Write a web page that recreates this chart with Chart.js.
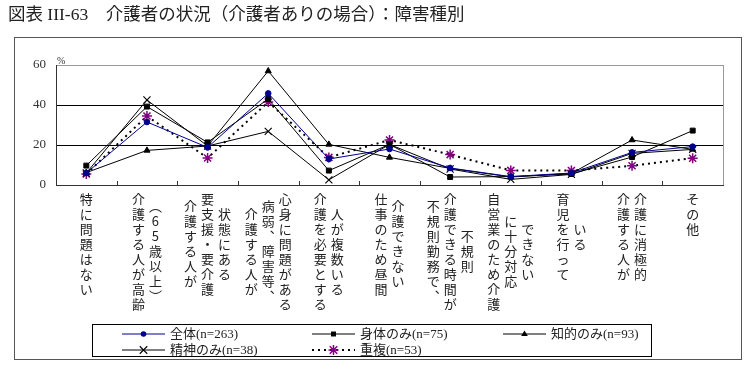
<!DOCTYPE html>
<html><head><meta charset="utf-8">
<script src="https://cdn.jsdelivr.net/npm/chart.js@4.4.1/dist/chart.umd.min.js"></script>
<style>html,body{margin:0;padding:0;background:#fff;}#wrap{width:750px;height:372px;position:relative;}</style>
</head><body><div id="wrap"><canvas id="c" width="750" height="372"></canvas></div>
<script>
const titleText = '図表 III-63　介護者の状況（介護者ありの場合）：障害種別';
// each category label split into its vertical columns (left to right)
const categories = [
  ['特に問題はない'],
  ['介護する人が高齢', '（65歳以上）'],
  ['介護する人が', '要支援・要介護', '状態にある'],
  ['介護する人が', '病弱、障害等、', '心身に問題がある'],
  ['介護を必要とする', '人が複数いる'],
  ['仕事のため昼間', '介護できない'],
  ['不規則勤務で、', '介護できる時間が', '不規則'],
  ['自営業のため介護', 'に十分対応', 'できない'],
  ['育児を行って', 'いる'],
  ['介護する人が', '介護に消極的'],
  ['その他']
];
const yTickValues = [0, 20, 40, 60];
const unitLabel = '%';
const seriesNames = ['全体(n=263)', '身体のみ(n=75)', '知的のみ(n=93)', '精神のみ(n=38)', '重複(n=53)'];
const zentai  = [6.0, 31.5, 18.8, 45.8, 13.0, 18.0, 8.5, 4.2, 6.0, 16.3, 19.2];
const shintai = [9.7, 39.2, 21.3, 43.0, 7.2, 20.3, 4.0, 4.2, 5.5, 14.0, 27.2];
const chiteki = [6.2, 17.3, 19.5, 57.0, 20.3, 13.8, 8.3, 4.0, 5.8, 22.5, 17.8];
const seishin = [6.0, 42.5, 19.5, 26.8, 2.6, 20.3, 8.0, 2.8, 5.3, 15.8, 17.8];
const choufuku = [5.5, 34.5, 13.5, 41.5, 13.8, 22.5, 15.2, 7.3, 7.2, 9.6, 13.4];

const CJK = "'Noto Sans CJK JP'";
const MIX = "'Liberation Serif', 'Noto Sans CJK JP'";

function drawMarker(ctx, style, x, y, r, fill, stroke, lw) {
  ctx.save();
  ctx.fillStyle = fill; ctx.strokeStyle = stroke; ctx.lineWidth = lw;
  ctx.beginPath();
  if (style === 'circle') { ctx.arc(x, y, r, 0, Math.PI * 2); ctx.fill(); }
  else if (style === 'rect') { const s = r / Math.SQRT2; ctx.fillRect(x - s, y - s, 2 * s, 2 * s); }
  else if (style === 'triangle') {
    ctx.moveTo(x, y - r); ctx.lineTo(x - r * 0.95, y + r * 0.6); ctx.lineTo(x + r * 0.95, y + r * 0.6); ctx.closePath(); ctx.fill();
  } else if (style === 'crossRot') {
    const s = r * 0.75;
    ctx.moveTo(x - s, y - s); ctx.lineTo(x + s, y + s); ctx.moveTo(x + s, y - s); ctx.lineTo(x - s, y + s); ctx.stroke();
  } else if (style === 'star') {
    const s = r * 0.75;
    ctx.moveTo(x - s, y - s); ctx.lineTo(x + s, y + s); ctx.moveTo(x + s, y - s); ctx.lineTo(x - s, y + s);
    ctx.moveTo(x, y - r); ctx.lineTo(x, y + r); ctx.moveTo(x - r, y); ctx.lineTo(x + r, y); ctx.stroke();
  }
  ctx.restore();
}

const vertMap = {'（': '︵', '）': '︶', '、': '︑'};

const decor = {
  id: 'decor',
  beforeDraw(chart) {
    const ctx = chart.ctx;
    ctx.save();
    ctx.fillStyle = '#fff'; ctx.fillRect(0, 0, chart.width, chart.height);
    ctx.fillStyle = '#222'; ctx.font = '17.5px ' + MIX; ctx.textBaseline = 'middle'; ctx.textAlign = 'left';
    ctx.fillText(titleText, 8, 15);
    ctx.strokeStyle = '#555'; ctx.lineWidth = 1;
    ctx.strokeRect(14.5, 37.5, 727, 322);
    ctx.restore();
  },
  beforeDatasetsDraw(chart) {
    const ctx = chart.ctx, a = chart.chartArea, xs = chart.scales.x;
    ctx.save();
    ctx.strokeStyle = '#999'; ctx.lineWidth = 1;
    ctx.beginPath(); ctx.moveTo(Math.round(a.right) + 0.5, a.top); ctx.lineTo(Math.round(a.right) + 0.5, a.bottom); ctx.stroke();
    ctx.strokeStyle = '#333';
    ctx.beginPath();
    for (let k = 1; k < categories.length; k++) {
      const bx = Math.round((xs.getPixelForValue(k - 1) + xs.getPixelForValue(k)) / 2) + 0.5;
      ctx.moveTo(bx, a.bottom); ctx.lineTo(bx, a.bottom - 4);
    }
    ctx.stroke();
    ctx.restore();
  },
  afterDraw(chart) {
    const ctx = chart.ctx, a = chart.chartArea, xs = chart.scales.x;
    ctx.save();
    ctx.fillStyle = '#333'; ctx.font = '10px ' + MIX; ctx.textAlign = 'left'; ctx.textBaseline = 'bottom';
    ctx.fillText(unitLabel, a.left + 1, a.top + 1);
    const pitch = 15, colW = 17, top = a.bottom + 14;
    ctx.font = '13px ' + CJK; ctx.fillStyle = '#222'; ctx.textAlign = 'center'; ctx.textBaseline = 'middle';
    categories.forEach((cols, i) => {
      const cx = xs.getPixelForValue(i);
      const maxLen = Math.max(...cols.map(c => [...c].length));
      cols.forEach((col, j) => {
        const chars = [...col];
        const x = cx + (j - (cols.length - 1) / 2) * colW;
        let y = top + (maxLen - chars.length) * pitch / 2;
        chars.forEach(ch => {
          ctx.fillText(vertMap[ch] || ch, x, y);
          y += pitch;
        });
      });
    });
    const ds = chart.data.datasets;
    ctx.strokeStyle = '#000'; ctx.lineWidth = 1;
    ctx.strokeRect(92.5, 324.5, 559, 32);
    const pos = [[122, 334], [312, 334], [503, 334], [122, 350], [312, 350]];
    ctx.font = '13px ' + MIX; ctx.textAlign = 'left'; ctx.textBaseline = 'middle';
    ds.forEach((d, i) => {
      const [lx, ly] = pos[i];
      ctx.save();
      ctx.strokeStyle = d.borderColor; ctx.lineWidth = d.borderWidth;
      ctx.setLineDash(d.borderDash || []);
      ctx.beginPath(); ctx.moveTo(lx, ly); ctx.lineTo(lx + 43, ly); ctx.stroke();
      ctx.restore();
      drawMarker(ctx, d.pointStyle, lx + 21.5, ly, d.pointRadius, d.pointBackgroundColor, d.pointBorderColor, d.pointBorderWidth);
      ctx.fillStyle = '#222';
      ctx.fillText(d.label, lx + 48, ly + 1);
    });
    ctx.restore();
  }
};

const mk = (label, data, color, style, r, extra) => Object.assign({
  label, data, borderColor: color, borderWidth: 1, tension: 0,
  pointStyle: style, pointRadius: r, pointHoverRadius: r,
  pointBackgroundColor: color, pointBorderColor: color, pointBorderWidth: 1
}, extra || {});

new Chart(document.getElementById('c'), {
  type: 'line',
  data: {
    labels: categories.map(c => c.join('')),
    datasets: [
      mk(seriesNames[0], zentai, '#000090', 'circle', 2.8),
      mk(seriesNames[1], shintai, '#000', 'rect', 3.5),
      mk(seriesNames[2], chiteki, '#000', 'triangle', 3.5),
      mk(seriesNames[3], seishin, '#000', 'crossRot', 5, {pointBorderWidth: 1.1}),
      mk(seriesNames[4], choufuku, '#000', 'star', 5, {borderWidth: 2, borderDash: [2, 4], pointBorderColor: '#800080', pointBackgroundColor: '#800080', pointBorderWidth: 1.5})
    ]
  },
  options: {
    responsive: false, animation: false, devicePixelRatio: 1,
    layout: {padding: {left: 0, right: 27, top: 65, bottom: 0}},
    plugins: {legend: {display: false}, title: {display: false}, tooltip: {enabled: false}},
    scales: {
      x: {
        offset: true,
        grid: {display: false},
        border: {color: '#333', width: 1},
        ticks: {display: false},
        afterFit(s) { s.height = 187; }
      },
      y: {
        min: 0, max: 60,
        afterBuildTicks(s) { s.ticks = yTickValues.map(v => ({value: v})); },
        afterFit(s) { s.width = 56; },
        grid: {
          drawTicks: false,
          color: c => c.tick.value === 0 ? 'rgba(0,0,0,0)' : (c.tick.value === 60 ? '#999' : '#000'),
          lineWidth: 1
        },
        border: {color: '#333', width: 1},
        ticks: {padding: 10, color: '#333', font: {family: "'Liberation Serif'", size: 13}}
      }
    }
  },
  plugins: [decor]
});
</script></body></html>
